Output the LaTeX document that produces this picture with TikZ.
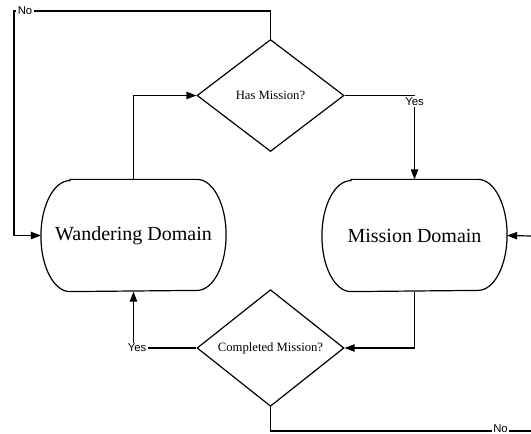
\documentclass[tikz,border=0pt]{standalone}
\usepackage{fontspec}
\setmainfont{Liberation Serif}
\setsansfont{Liberation Sans}
\usetikzlibrary{shapes.geometric,arrows.meta,calc}

\tikzset{every picture/.style={line width=0.9pt}}
\tikzset{
  decision/.style={diamond, draw, inner sep=0pt, minimum width=110.25pt, minimum height=84pt, font=\fontsize{9.5}{11}\selectfont},
  domainbox/.style={rectangle, inner sep=0pt, minimum width=138pt, minimum height=83.25pt, font=\fontsize{15}{18}\selectfont},
  flow/.style={-{Triangle[length=7.5pt,width=5.5pt]}},
  answer/.style={fill=white, inner sep=1pt, font=\sffamily\fontsize{8.5}{10}\selectfont}
}

\begin{document}
\begin{tikzpicture}[x=0.75pt,y=0.75pt,yscale=-1,xscale=1]
\useasboundingbox (0,0) rectangle (531,434);

%Shape: Diamond [id:hasmission]
\node [decision] (hasm) at (270.5,95.5) {Has Mission?};
%Shape: Diamond [id:completed]
\node [decision] (comp) at (270.5,348) {Completed Mission?};
%Shape: Rounded Rect [id:wandering]
\node [domainbox] (wander) at (133.5,235.5) {Wandering Domain};
%Shape: Rounded Rect [id:missiondom]
\node [domainbox] (mission) at (414.5,235.5) {Mission Domain};

%Outline of the two domains
\foreach \dom in {wander,mission}{
  \draw ($(\dom.north west)+(29,0)$) -- ($(\dom.north east)+(-29,0)$)
    arc [start angle=-90, end angle=90, x radius=29, y radius=55.5]
    -- ($(\dom.south west)+(29,0)$)
    arc [start angle=90, end angle=270, x radius=29, y radius=55.5] -- cycle ;
}

%Corner points
\coordinate (topleft) at (14,11);
\coordinate (inright) at (531,236);
\coordinate (outright) at (531,431);

%Straight Lines [id:wander-hasm]
\draw [flow] (wander.north) |- (hasm.west) ;
%Straight Lines [id:hasm-no]
\draw [flow] (hasm.north) |- (topleft) |- (wander.west) ;
%Straight Lines [id:hasm-yes]
\draw [flow] (hasm.east) -| (mission.north) ;
%Straight Lines [id:mission-comp]
\draw [flow] (mission.south) |- (comp.east) ;
%Straight Lines [id:comp-yes]
\draw [flow] (comp.west) -| (wander.south) ;
%Straight Lines [id:comp-no]
\draw (comp.south) |- (outright) ;
%Straight Lines [id:in-mission]
\draw [flow] (inright) -- (mission.east) ;

% Text Node
\node [answer] (nohas) at (25,11) {No};
% Text Node
\node [answer] (yeshas) at (414.5,101.5) {Yes};
% Text Node
\node [answer] (yescomp) at (137,348) {Yes};
% Text Node
\node [answer] (nocomp) at (500.5,428.5) {No};
\end{tikzpicture}
\end{document}
